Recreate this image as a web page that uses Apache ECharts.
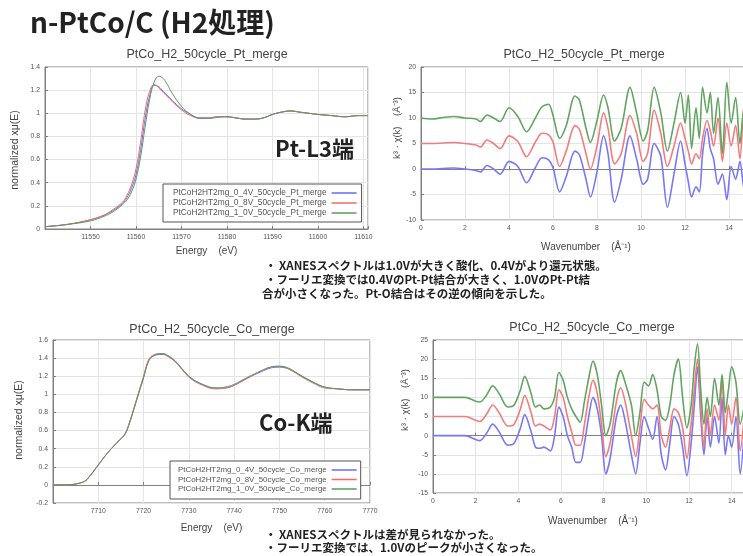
<!DOCTYPE html>
<html><head><meta charset="utf-8">
<script src="https://cdn.jsdelivr.net/npm/echarts@6/dist/echarts.min.js"></script>
<style>html,body{margin:0;padding:0;background:#fff}#c{width:743px;height:556px}</style>
</head><body><div id="c"></div>
<script>
// ---------- DATA ----------
const ptLegendNames = ['PtCoH2HT2mg_0_4V_50cycle_Pt_merge','PtCoH2HT2mg_0_8V_50cycle_Pt_merge','PtCoH2HT2mg_1_0V_50cycle_Pt_merge'];
const coLegendNames = ['PtCoH2HT2mg_0_4V_50cycle_Co_merge','PtCoH2HT2mg_0_8V_50cycle_Co_merge','PtCoH2HT2mg_1_0V_50cycle_Co_merge'];

const ptEnergy = [11540,11545,11550,11553,11555,11557,11558,11559,11560,11561,11562,11563,11564,11565,11566,11567,11568,11570,11572,11574,11576,11578,11580,11582,11584,11586,11588,11590,11592,11594,11596,11598,11600,11603,11606,11609,11611];
const ptXanes04 = [0.02,0.04,0.08,0.12,0.16,0.22,0.27,0.35,0.47,0.68,0.95,1.15,1.24,1.23,1.19,1.15,1.11,1.04,0.99,0.96,0.96,0.97,0.97,0.96,0.95,0.95,0.96,0.99,1.01,1.02,1.01,1.00,0.99,0.98,0.97,0.98,0.98];
const ptXanes08 = [0.02,0.04,0.08,0.12,0.17,0.23,0.29,0.38,0.52,0.75,1.02,1.19,1.25,1.22,1.18,1.14,1.10,1.03,0.98,0.96,0.96,0.97,0.97,0.96,0.95,0.95,0.96,0.99,1.01,1.02,1.01,1.00,0.99,0.98,0.97,0.98,0.98];
const ptXanes10 = [0.02,0.04,0.07,0.11,0.15,0.21,0.25,0.32,0.43,0.62,0.88,1.12,1.27,1.32,1.30,1.24,1.17,1.06,0.99,0.955,0.955,0.965,0.97,0.96,0.95,0.95,0.96,0.99,1.01,1.02,1.01,1.00,0.99,0.98,0.97,0.98,0.98];

const kPt = [0,0.5,1,1.5,2,2.5,2.7,3,3.3,3.6,4,4.4,4.8,5.2,5.5,5.8,6,6.3,6.6,7,7.2,7.5,7.7,8,8.3,8.5,8.8,9.1,9.5,9.8,10.1,10.3,10.6,10.9,11.2,11.5,11.8,12,12.15,12.3,12.5,12.65,12.8,13,13.15,13.3,13.5,13.7,13.9,14.1,14.3,14.5,14.7,15];
const ptExafs04 = [0,0,0.1,0.2,0,-0.3,-0.6,0.7,0,-1.0,1.5,0.5,-2.7,0.3,2.2,1.8,0.3,-4.5,-1.5,3.5,2.8,-2.0,-5.5,-0.5,6.5,3.0,-6.5,-2.0,6.5,2.0,-3.0,-2.0,5.0,2.5,-7.5,-1.0,5.5,1.0,-2.5,-5.5,-3.5,-4.5,3.0,8.0,4.0,2.0,-3.0,-1.0,-6.0,0.5,-2.0,1.5,-4.0,0];
const ptExafs08 = [5,5,5.1,5.2,5.0,4.7,4.3,5.7,5.0,4.0,6.5,5.4,2.4,5.3,7.0,6.7,5.3,0.5,3.5,8.5,7.8,3.0,0.0,4.5,11.0,8.0,1.0,3.0,10.5,7.0,1.5,3.0,11.5,7.0,0.5,4.5,9.0,6.0,3.5,1.0,3.0,2.0,6.0,9.5,7.5,4.5,10.0,1.5,9.0,4.5,8.5,2.0,13.0,5.0];
const ptExafs10 = [10,9.8,10.1,10.3,10.0,9.8,9.3,10.6,10.0,9.3,12.0,10.3,7.3,10.0,12.2,12.7,10.5,6.0,8.5,14.3,13.5,8.0,5.2,9.5,14.5,12.0,5.5,8.0,16.0,11.0,5.5,7.5,16.0,11.0,3.5,9.0,15.0,9.0,14.5,4.0,12.0,6.0,16.0,11.0,15.0,7.0,14.0,3.0,17.0,9.0,14.0,5.0,12.0,8.0];

const coEnergy = [7700,7703,7705,7707,7708,7710,7712,7714,7715,7716,7717,7718,7719,7720,7721,7722,7724,7725,7727,7730,7733,7736,7738,7740,7743,7746,7748,7750,7752,7755,7758,7760,7763,7766,7770];
const coXanes04 = [0.00,0.00,0.01,0.04,0.09,0.22,0.35,0.46,0.51,0.57,0.70,0.86,1.03,1.19,1.36,1.42,1.44,1.43,1.36,1.20,1.11,1.07,1.07,1.10,1.18,1.25,1.29,1.30,1.28,1.20,1.12,1.08,1.06,1.05,1.05];
const coXanes08 = [0.00,0.00,0.01,0.04,0.09,0.22,0.35,0.46,0.51,0.57,0.71,0.87,1.04,1.20,1.37,1.43,1.45,1.43,1.36,1.19,1.10,1.06,1.07,1.10,1.18,1.26,1.30,1.31,1.28,1.19,1.11,1.07,1.06,1.05,1.05];
const coXanes10 = [0.00,0.00,0.01,0.04,0.09,0.22,0.35,0.46,0.51,0.57,0.70,0.86,1.02,1.18,1.35,1.42,1.45,1.44,1.37,1.20,1.11,1.07,1.08,1.11,1.19,1.26,1.30,1.31,1.29,1.20,1.12,1.08,1.06,1.05,1.05];

const kCo = [0,0.5,1,1.5,2.0,2.2,2.5,2.8,3.1,3.5,3.8,4.1,4.3,4.6,4.8,5.0,5.2,5.5,5.7,5.9,6.1,6.3,6.5,6.7,6.9,7.1,7.3,7.5,7.7,7.9,8.1,8.3,8.6,8.8,9.0,9.3,9.5,9.7,9.9,10.1,10.3,10.5,10.7,10.9,11.1,11.3,11.5,11.7,11.9,12.1,12.25,12.4,12.55,12.7,12.85,13.0,13.2,13.4,13.55,13.7,13.85,14.0,14.2,14.4,14.6];
const coExafs04 = [0,0,0,0,-1.0,-1.3,0.5,3.0,1.0,-2.5,-2.0,2.0,5.5,1.0,-3.0,-3.3,-3.0,-4.0,0,7.5,5.0,0,-3.0,-7.0,-7.0,-2,5,10.0,7.0,0,-10.0,-6,5.0,8.0,4,-5,-10,-2,5,2,-1,5.0,-5.0,-9.0,-2,5,3,-3,-10.5,-2,8,18,5,-5,5,-3,5,-2,10,-5,0,-3,5,-10,2];
const coExafs08 = [5,5,5,5,4.0,3.7,5.5,8.0,6.0,2.5,3.0,7.0,10.5,6.0,2.5,3.0,2.5,1.5,5.0,12.0,10.0,5.0,1.0,-2.5,-2.5,3.0,10.0,14.5,11.0,3.0,-5.5,-2.0,9.0,12.5,9.0,0,-5.5,2.0,9.5,8.0,7.0,8.0,0,-3.0,2.0,7.0,6.0,2.0,-6.0,3.0,12.0,20.0,8.0,-3.0,7.0,0,8.0,4.0,15.0,0,8.0,3.0,10.0,-4.0,6.0];
const coExafs10 = [10,10,10,10,9.0,8.8,10.5,13.0,11.0,7.5,8.0,12.0,15.5,11.0,7.5,8.0,7.0,7.5,10.0,16.5,14.5,10.0,7.0,5.0,3.5,9.0,15.0,19.5,16.0,8.0,0,3.0,14.0,17.0,14.0,8.0,0,6.0,14.0,13.0,16.0,12.0,5.0,4.0,8.0,16.0,20.0,10.0,2.0,8.0,18.0,24.0,12.0,3.0,10.0,5.0,15.0,8.0,16.0,6.0,12.0,18.0,14.0,3.0,8.0];

// tick settings (right-hand plots run past the slide edge)
const ptXTicks = {min:11540, max:11611, interval:10};
const ptYTicks = {min:0, max:1.4, interval:0.2};
const ptKTicks = {min:0, max:15, interval:2};
const ptChiTicks = {min:-10, max:20, interval:5};
const coXTicks = {min:7700, max:7770, interval:10};
const coYTicks = {min:-0.2, max:1.6, interval:0.2};
const coKTicks = {min:0, max:15, interval:2};
const coChiTicks = {min:-15, max:25, interval:5};

// ---------- CHART ----------
const FONT = "'Liberation Sans', Arial, sans-serif";
const JP = "'Noto Sans CJK JP', 'Noto Sans', sans-serif";
const xanesColors = ['#6a6af0','#f06a6a','#5a9c5a'];
const exafsColors = ['#7878f4','#f27c7c','#62a462'];

function pairs(xs, ys){ return xs.map((x,i)=>[x, ys[i]]); }

function axis(gridIndex, t, extra){
  return Object.assign({
    type:'value', gridIndex, min:t.min, max:t.max, interval:t.interval,
    axisLine:{show:true, lineStyle:{color:'#808080', width:1}},
    axisTick:{show:true, inside:true, length:3, lineStyle:{color:'#808080'}},
    splitLine:{show:true, lineStyle:{color:'#e4e4e4', width:1}},
    axisLabel:{fontSize:6.8, color:'#555', margin:5, fontFamily:FONT,
      formatter:v => (Math.abs(v/t.interval - Math.round(v/t.interval))<1e-6) ? String(+v.toFixed(2)) : ''},
    nameLocation:'middle', nameTextStyle:{fontSize:10, color:'#444', fontFamily:FONT}
  }, extra||{});
}

const chart = echarts.init(document.getElementById('c'), null, {renderer:'canvas'});

const grids = [
  {left:45, top:67, width:323, height:162},
  {left:421, top:67, width:330, height:153},
  {left:53, top:340, width:317, height:163},
  {left:433, top:340, width:320, height:153}
].map(g => Object.assign({show:true, borderColor:'#808080', borderWidth:1, backgroundColor:'#fff',
  outerBoundsMode:'none', containLabel:false}, g));

const xAxes = [
  axis(0, ptXTicks, {name:'Energy    (eV)', nameGap:17, axisLabel:Object.assign({}, axis(0,ptXTicks).axisLabel, {showMinLabel:false})}),
  axis(1, ptKTicks, {name:'Wavenumber    (Å⁻¹)', nameGap:22}),
  axis(2, coXTicks, {name:'Energy    (eV)', nameGap:20, axisLabel:Object.assign({}, axis(2,coXTicks).axisLabel, {showMinLabel:false})}),
  axis(3, coKTicks, {name:'Wavenumber    (Å⁻¹)', nameGap:23})
];
const yAxes = [
  axis(0, ptYTicks),
  axis(1, ptChiTicks),
  axis(2, coYTicks),
  axis(3, coChiTicks)
];

function line(name, xi, xs, ys, color, width, smooth){
  return {type:'line', name, xAxisIndex:xi, yAxisIndex:xi, data:pairs(xs, ys),
    showSymbol:false, symbol:'none', smooth:smooth, lineStyle:{color, width}, itemStyle:{color}, silent:true};
}

const series = [
  line(ptLegendNames[0],0,ptEnergy,ptXanes04,xanesColors[0],1,0.4),
  line(ptLegendNames[1],0,ptEnergy,ptXanes08,xanesColors[1],1,0.4),
  line(ptLegendNames[2],0,ptEnergy,ptXanes10,xanesColors[2],1,0.4),
  line('Pt k3chi 0.4V',1,kPt,ptExafs04,exafsColors[0],1.6,0.3),
  line('Pt k3chi 0.8V',1,kPt,ptExafs08,exafsColors[1],1.6,0.3),
  line('Pt k3chi 1.0V',1,kPt,ptExafs10,exafsColors[2],1.6,0.3),
  line(coLegendNames[0],2,coEnergy,coXanes04,xanesColors[0],1,0.4),
  line(coLegendNames[1],2,coEnergy,coXanes08,xanesColors[1],1,0.4),
  line(coLegendNames[2],2,coEnergy,coXanes10,xanesColors[2],1,0.4),
  line('Co k3chi 0.4V',3,kCo,coExafs04,exafsColors[0],1.6,0.3),
  line('Co k3chi 0.8V',3,kCo,coExafs08,exafsColors[1],1.6,0.3),
  line('Co k3chi 1.0V',3,kCo,coExafs10,exafsColors[2],1.6,0.3)
];

function legend(names, left, top, fs, gap, pad){
  return {data:names, orient:'vertical', align:'right', left, top, icon:'rect',
    itemWidth:25, itemHeight:1.5, itemGap:gap, padding:pad,
    borderColor:'#555', borderWidth:1, backgroundColor:'#fff', selectedMode:false,
    textStyle:{fontSize:fs, color:'#555', fontFamily:FONT}};
}

function txt(x, y, text, font, opts){
  opts = opts || {};
  return {type:'text', x, y, z:100, silent:true, rotation:opts.rotation||0,
    style:{text, font, fill:opts.fill||'#222', align:opts.align||'left', verticalAlign:'middle'}};
}
const rot = Math.PI/2;
const titleFont = "12.5px "+FONT;
const yNameFont = "10.5px "+FONT;
const noteFont = "bold 11.5px "+JP;
const graphics = [
  txt(30, 22, 'n-PtCo/C (H2処理)', "bold 28px "+JP),
  txt(207, 55, 'PtCo_H2_50cycle_Pt_merge', titleFont, {align:'center', fill:'#444'}),
  txt(584, 55, 'PtCo_H2_50cycle_Pt_merge', titleFont, {align:'center', fill:'#444'}),
  txt(212, 330, 'PtCo_H2_50cycle_Co_merge', titleFont, {align:'center', fill:'#444'}),
  txt(592, 328, 'PtCo_H2_50cycle_Co_merge', titleFont, {align:'center', fill:'#444'}),
  txt(15, 150, 'normalized xμ(E)', yNameFont, {rotation:rot, align:'center', fill:'#444'}),
  txt(397, 128, 'k³ · χ(k)    (Å⁻³)', "9.5px "+FONT, {rotation:rot, align:'center', fill:'#444'}),
  txt(19, 420, 'normalized xμ(E)', yNameFont, {rotation:rot, align:'center', fill:'#444'}),
  txt(405, 400, 'k³ · χ(k)    (Å⁻³)', "9.5px "+FONT, {rotation:rot, align:'center', fill:'#444'}),
  txt(275, 149, 'Pt-L3端', "bold 22px "+JP),
  txt(259, 423, 'Co-K端', "bold 22px "+JP),
  txt(265, 266, '・ XANESスペクトルは1.0Vが大きく酸化、0.4Vがより還元状態。', noteFont),
  txt(265, 280, '・フーリエ変換では0.4VのPt-Pt結合が大きく、1.0VのPt-Pt結', noteFont),
  txt(262, 294, '合が小さくなった。Pt-O結合はその逆の傾向を示した。', noteFont),
  txt(265, 535, '・ XANESスペクトルは差が見られなかった。', noteFont),
  txt(265, 548, '・フーリエ変換では、1.0Vのピークが小さくなった。', noteFont)
];

chart.setOption({
  animation:false,
  backgroundColor:'#fff',
  textStyle:{fontFamily:FONT},
  grid:grids, xAxis:xAxes, yAxis:yAxes, series,
  legend:[legend(ptLegendNames,163,184,8.3,2,[5,5,5,10]), legend(coLegendNames,170,461,7.9,1.5,[5,4,6,8])],
  graphic:graphics
});
</script></body></html>
